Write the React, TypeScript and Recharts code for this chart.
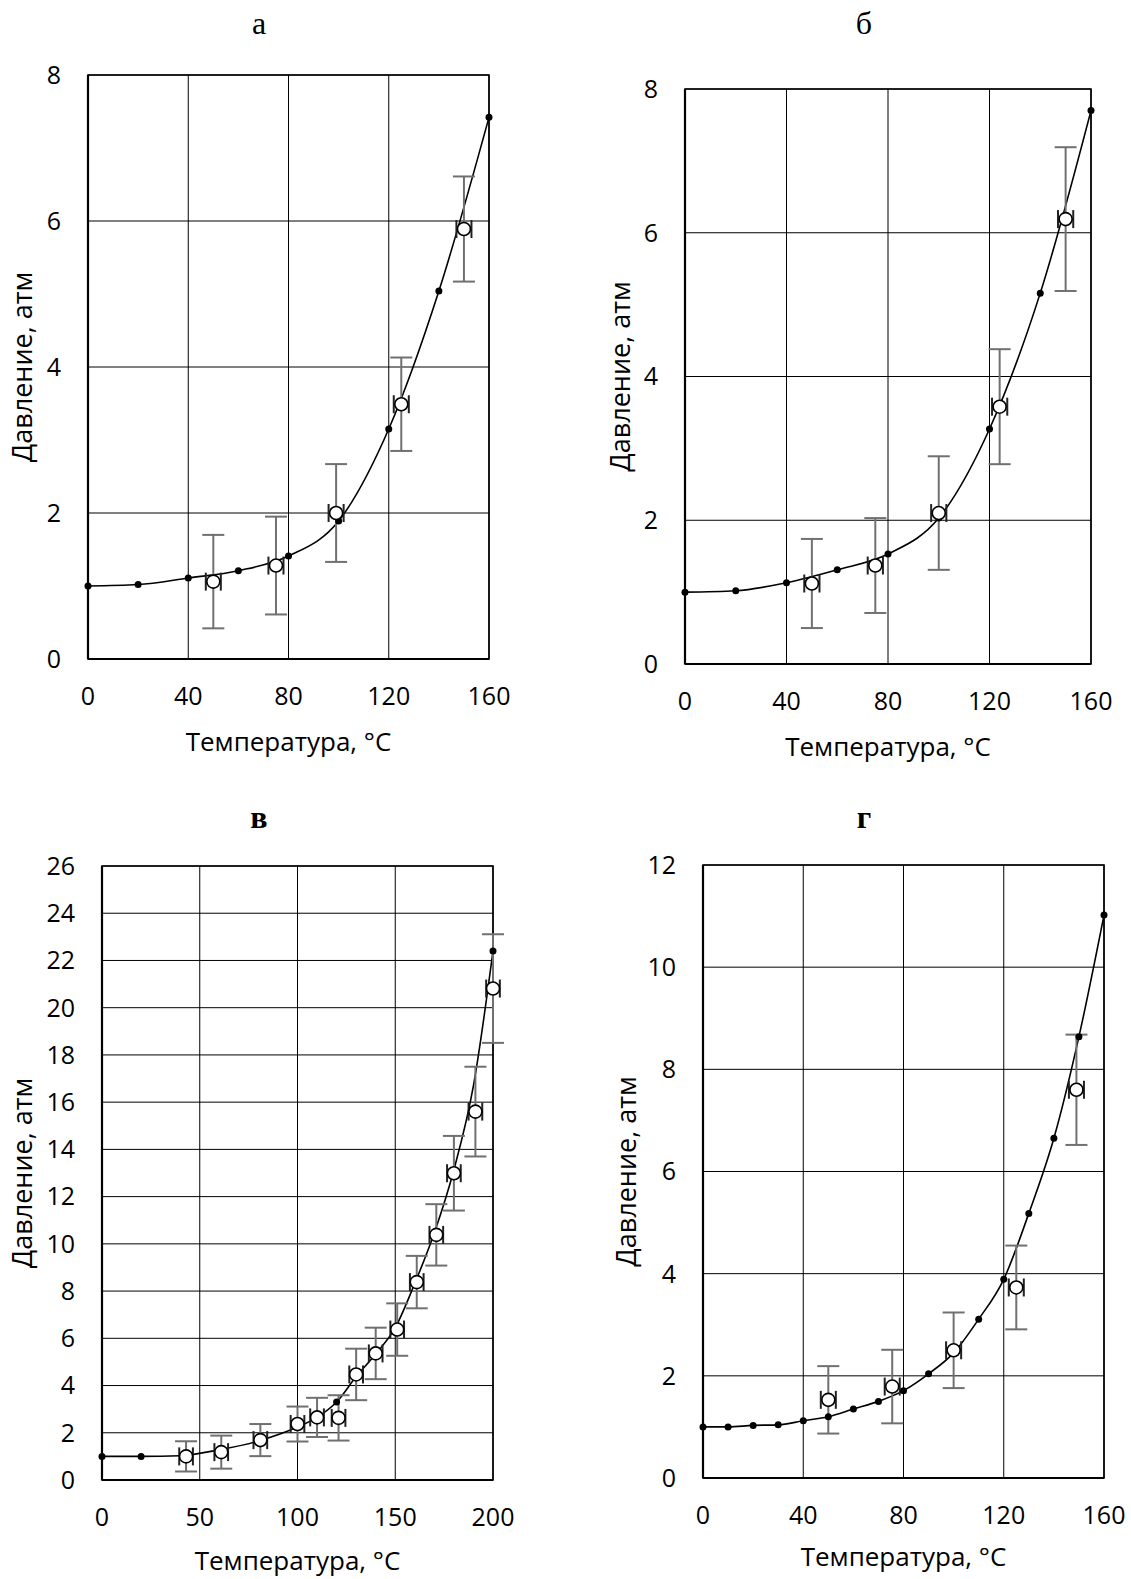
import React from 'react';
import {
  ComposedChart,
  Line,
  Scatter,
  XAxis,
  YAxis,
  CartesianGrid,
  ErrorBar,
  ReferenceArea,
} from 'recharts';

// ---------- панель а ----------
const aCalcT = [0, 20, 40, 60, 80, 100, 120, 140, 160];
const aCalcP = [1.0, 1.02, 1.11, 1.21, 1.41, 1.89, 3.15, 5.04, 7.42];
const aExpT = [50, 75, 99, 125, 150];
const aExpP = [1.06, 1.28, 2.0, 3.49, 5.89];
const aErrP = [0.64, 0.67, 0.67, 0.64, 0.72];
const aErrT = [3, 3, 3, 3, 3];

// ---------- панель б ----------
const bCalcT = [0, 20, 40, 60, 80, 100, 120, 140, 160];
const bCalcP = [1.0, 1.02, 1.13, 1.31, 1.53, 2.03, 3.27, 5.16, 7.7];
const bExpT = [50, 75, 100, 124, 150];
const bExpP = [1.12, 1.37, 2.1, 3.58, 6.19];
const bErrP = [0.62, 0.66, 0.79, 0.8, 1.0];
const bErrT = [3, 3, 3, 3, 3];

// ---------- панель в ----------
const vCurveT = [0, 20, 40, 60, 80, 100, 110, 120, 130, 140, 150, 160, 170, 180, 190, 200];
const vCurveP = [1.0, 1.0, 1.03, 1.28, 1.65, 2.24, 2.65, 3.3, 4.38, 5.34, 6.45, 8.33, 10.47, 13.14, 16.7, 22.4];
const vCalcT = [0, 20, 120, 200];
const vCalcP = [1.0, 1.0, 3.3, 22.4];
const vExpT = [43, 61, 81, 100, 110, 121, 130, 140, 151, 161, 171, 180, 191, 200];
const vExpP = [1.0, 1.18, 1.69, 2.37, 2.65, 2.63, 4.47, 5.36, 6.37, 8.38, 10.38, 12.99, 15.6, 20.81];
const vErrP = [0.64, 0.7, 0.68, 0.74, 0.83, 0.96, 1.09, 1.09, 1.11, 1.11, 1.3, 1.58, 1.9, 2.3];
const vErrT = [3.5, 3.5, 3.5, 3.5, 3.5, 3.5, 3.5, 3.5, 3.5, 3.5, 3.5, 3.5, 3.5, 3.5];

// ---------- панель г ----------
const gCalcT = [0, 10, 20, 30, 40, 50, 60, 70, 80, 90, 100, 110, 120, 130, 140, 150, 160];
const gCalcP = [1.0, 1.0, 1.03, 1.04, 1.12, 1.2, 1.35, 1.5, 1.71, 2.04, 2.45, 3.11, 3.89, 5.18, 6.65, 8.64, 11.02];
const gExpT = [50, 75.5, 100, 125, 149];
const gExpP = [1.53, 1.79, 2.5, 3.73, 7.6];
const gErrP = [0.66, 0.72, 0.74, 0.82, 1.08];
const gErrT = [3, 3, 3, 3, 3];

const ticks160 = [0, 40, 80, 120, 160];
const ticks200 = [0, 50, 100, 150, 200];
const ticksP8 = [0, 2, 4, 6, 8];
const ticksP12 = [0, 2, 4, 6, 8, 10, 12];
const ticksP26 = [0, 2, 4, 6, 8, 10, 12, 14, 16, 18, 20, 22, 24, 26];

const pts = (xs: number[], ys: number[]) => xs.map((x, i) => ({ x, y: ys[i] }));
const expPts = (xs: number[], ys: number[], ey: number[], ex: number[]) =>
  xs.map((x, i) => ({ x, y: ys[i], ey: ey[i], ex: ex[i] }));

const FONT = "'Open Sans', 'Noto Sans', sans-serif";
const tickStyle = { fontSize: 25, fill: '#000', fontFamily: FONT };

const smallDot = (p: any) => <circle cx={p.cx} cy={p.cy} r={3.5} fill="#000" />;
const openCircle = (p: any) => (
  <circle cx={p.cx} cy={p.cy} r={6.5} fill="#fff" stroke="#000" strokeWidth={1.6} />
);

interface Box { L: number; T: number; R: number; B: number }

interface PanelProps {
  box: Box;
  xMax: number;
  yMax: number;
  xTicks: number[];
  yTicks: number[];
  curve: { x: number; y: number }[];
  calc: { x: number; y: number }[];
  exp: { x: number; y: number; ey: number; ex: number }[];
}

const YW = 80;
const XH = 64;
const MT = 26;
const MR = 32;

function Panel({ box, xMax, yMax, xTicks, yTicks, curve, calc, exp }: PanelProps) {
  const w = YW + (box.R - box.L) + MR;
  const h = MT + (box.B - box.T) + XH;
  return (
    <div style={{ position: 'absolute', left: box.L - YW, top: box.T - MT }}>
      <ComposedChart width={w} height={h} margin={{ top: MT, right: MR, bottom: 0, left: 0 }}>
        <CartesianGrid stroke="#000" strokeWidth={1} />
        <XAxis
          type="number"
          dataKey="x"
          domain={[0, xMax]}
          allowDataOverflow
          ticks={xTicks}
          interval={0}
          height={XH}
          tickLine={false}
          tickSize={0}
          tickMargin={28}
          axisLine={{ stroke: '#000', strokeWidth: 2.2 }}
          tick={tickStyle}
        />
        <YAxis
          type="number"
          domain={[0, yMax]}
          allowDataOverflow
          ticks={yTicks}
          interval={0}
          width={YW}
          tickLine={false}
          tickSize={0}
          tickMargin={27}
          axisLine={{ stroke: '#000', strokeWidth: 2.2 }}
          tick={tickStyle}
        />
        <ReferenceArea x1={0} x2={xMax} y1={0} y2={yMax} fill="none" stroke="#000" strokeWidth={1.6} />
        <Line
          data={curve}
          dataKey="y"
          type="monotone"
          stroke="#000"
          strokeWidth={1.6}
          dot={false}
          activeDot={false}
          isAnimationActive={false}
        />
        <Scatter data={calc} dataKey="y" shape={smallDot} isAnimationActive={false} />
        <Scatter data={exp} dataKey="y" shape={openCircle} isAnimationActive={false}>
          <ErrorBar dataKey="ey" direction="y" width={11} stroke="#707070" strokeWidth={2} />
          <ErrorBar dataKey="ex" direction="x" width={9} stroke="#222" strokeWidth={2} />
        </Scatter>
      </ComposedChart>
    </div>
  );
}

const boxA: Box = { L: 88, T: 75, R: 489, B: 659 };
const boxB: Box = { L: 685, T: 89, R: 1091, B: 664 };
const boxV: Box = { L: 102, T: 866, R: 493, B: 1480 };
const boxG: Box = { L: 703, T: 865, R: 1104, B: 1478 };

const xTitle = 'Температура, °C';
const yTitle = 'Давление, атм';

function Titles() {
  const yT = (cx: number, cy: number) => (
    <text
      x={cx}
      y={cy}
      transform={`rotate(-90 ${cx} ${cy})`}
      textAnchor="middle"
      fontSize={27}
      fontFamily={FONT}
      fill="#000"
    >
      {yTitle}
    </text>
  );
  const xT = (cx: number, by: number) => (
    <text x={cx} y={by} textAnchor="middle" fontSize={26} fontFamily={FONT} fill="#000">
      {xTitle}
    </text>
  );
  const serif = "'Liberation Serif', 'Times New Roman', serif";
  return (
    <svg
      width={1131}
      height={1579}
      style={{ position: 'absolute', left: 0, top: 0, pointerEvents: 'none' }}
    >
      <text x={259} y={34} textAnchor="middle" fontSize={32} fontFamily={serif}>а</text>
      <text x={864} y={34} textAnchor="middle" fontSize={32} fontFamily={serif}>б</text>
      <text x={259} y={828} textAnchor="middle" fontSize={32} fontWeight="bold" fontFamily={serif}>в</text>
      <text x={864} y={828} textAnchor="middle" fontSize={32} fontWeight="bold" fontFamily={serif}>г</text>
      {yT(32, (boxA.T + boxA.B) / 2)}
      {yT(630, (boxB.T + boxB.B) / 2)}
      {yT(32, (boxV.T + boxV.B) / 2)}
      {yT(636, (boxG.T + boxG.B) / 2)}
      {xT((boxA.L + boxA.R) / 2, boxA.B + 92)}
      {xT((boxB.L + boxB.R) / 2, boxB.B + 92)}
      {xT((boxV.L + boxV.R) / 2, boxV.B + 90)}
      {xT((boxG.L + boxG.R) / 2, boxG.B + 88)}
    </svg>
  );
}

// markers at the right edge sit half outside the plot box, as in the original
const noClip = '.recharts-wrapper g[clip-path] { clip-path: none !important; }';

export default function App() {
  return (
    <div style={{ position: 'absolute', left: 0, top: 0, width: 1131, height: 1579, background: '#fff' }}>
      <style>{noClip}</style>
      <Panel
        box={boxA}
        xMax={160}
        yMax={8}
        xTicks={ticks160}
        yTicks={ticksP8}
        curve={pts(aCalcT, aCalcP)}
        calc={pts(aCalcT, aCalcP)}
        exp={expPts(aExpT, aExpP, aErrP, aErrT)}
      />
      <Panel
        box={boxB}
        xMax={160}
        yMax={8}
        xTicks={ticks160}
        yTicks={ticksP8}
        curve={pts(bCalcT, bCalcP)}
        calc={pts(bCalcT, bCalcP)}
        exp={expPts(bExpT, bExpP, bErrP, bErrT)}
      />
      <Panel
        box={boxV}
        xMax={200}
        yMax={26}
        xTicks={ticks200}
        yTicks={ticksP26}
        curve={pts(vCurveT, vCurveP)}
        calc={pts(vCalcT, vCalcP)}
        exp={expPts(vExpT, vExpP, vErrP, vErrT)}
      />
      <Panel
        box={boxG}
        xMax={160}
        yMax={12}
        xTicks={ticks160}
        yTicks={ticksP12}
        curve={pts(gCalcT, gCalcP)}
        calc={pts(gCalcT, gCalcP)}
        exp={expPts(gExpT, gExpP, gErrP, gErrT)}
      />
      <Titles />
    </div>
  );
}
